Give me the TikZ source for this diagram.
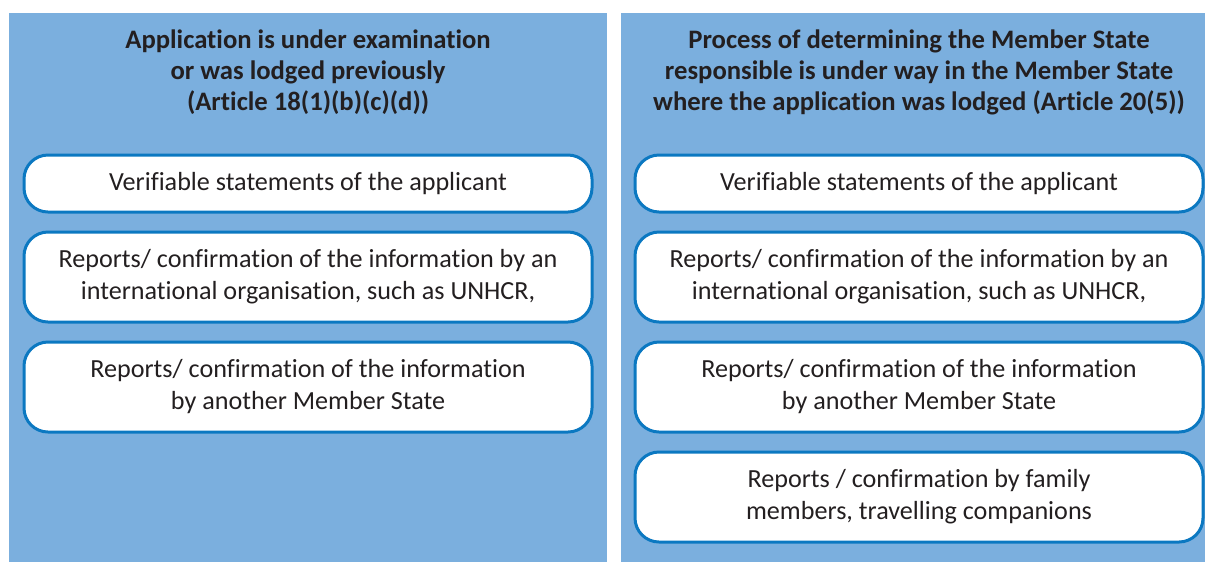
\documentclass[tikz,border=0pt]{standalone}
\usepackage{fontspec}
\setmainfont{Carlito}[Ligatures=NoCommon]
\usetikzlibrary{positioning}
\definecolor{panelblue}{HTML}{7BAFDE}
\definecolor{boxblue}{HTML}{0B78C1}
\definecolor{inktext}{HTML}{231F20}
\tikzset{
    panel/.style={fill=panelblue, draw=none},
    head/.style={align=center, text=inktext, font=\fontsize{20}{23.25}\selectfont\bfseries},
    infobox/.style={draw=boxblue, fill=white, line width=2.25pt, rounded corners=18pt,
      minimum width=426pt, inner sep=0pt, align=center, text=inktext,
      font=\fontsize{19.6}{24}\selectfont},
}

\begin{document}
\begin{tikzpicture}[x=0.75pt, y=-0.75pt]
    \tikzset{
      node distance=12.75pt,
      short/.style={minimum height=42.75pt},
      tall/.style={minimum height=67.5pt}
    }
    \useasboundingbox (0,0) rectangle (1205,562);

    % panels
    \fill[panel] (9,13) rectangle (607,562);
    \fill[panel] (621,13) rectangle (1205,562);

    % left column
    \node[head] (lhead) at (308,72) {Application is under examination\\or was lodged previously\\(Article 18(1)(b)(c)(d))};
    \node[infobox, short] (l1) at (308,183.5) {Verifiable statements of the applicant};
    \node[infobox, tall, below=of l1] (l2) {Reports/ confirmation of the information by an\\international organisation, such as UNHCR,};
    \node[infobox, tall, below=of l2] (l3) {Reports/ confirmation of the information\\by another Member State};

    % right column
    \node[head] (rhead) at (919,72) {Process of determining the Member State\\responsible is under way in the Member State\\where the application was lodged (Article 20(5))};
    \node[infobox, short] (r1) at (919,183.5) {Verifiable statements of the applicant};
    \node[infobox, tall, below=of r1] (r2) {Reports/ confirmation of the information by an\\international organisation, such as UNHCR,};
    \node[infobox, tall, below=of r2] (r3) {Reports/ confirmation of the information\\by another Member State};
    \node[infobox, tall, below=of r3] (r4) {Reports / confirmation by family\\members, travelling companions};
\end{tikzpicture}
\end{document}
